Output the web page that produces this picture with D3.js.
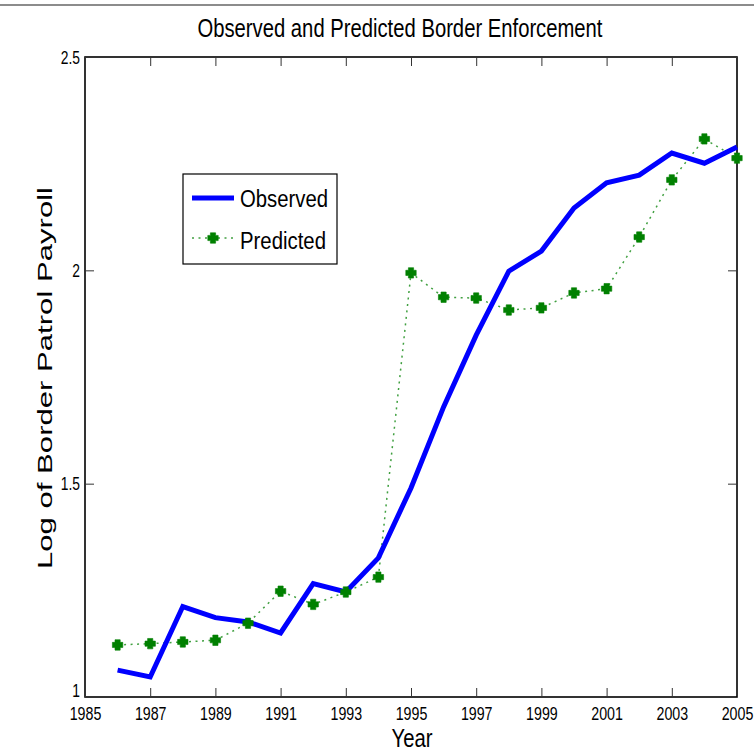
<!DOCTYPE html>
<html><head><meta charset="utf-8">
<script src="https://cdn.jsdelivr.net/npm/d3@7"></script>
<style>body{margin:0;background:#fff}svg{display:block}text{font-family:"Liberation Sans",Arial,sans-serif}</style>
</head><body>
<svg id="c" width="754" height="752"></svg>
<script>
const years = [1986,1987,1988,1989,1990,1991,1992,1993,1994,1995,1996,1997,1998,1999,2000,2001,2002,2003,2004,2005];
const observed = [1.063,1.047,1.212,1.186,1.176,1.150,1.266,1.246,1.326,1.490,1.680,1.848,1.998,2.045,2.146,2.205,2.223,2.275,2.251,2.289];
const predicted = [1.122,1.125,1.129,1.133,1.173,1.248,1.217,1.246,1.281,1.994,1.937,1.935,1.907,1.912,1.947,1.957,2.078,2.212,2.308,2.263];
const xTicks = [1985,1987,1989,1991,1993,1995,1997,1999,2001,2003,2005];
const yTicks = [1,1.5,2,2.5];
const seriesNames = ["Observed","Predicted"];

const svg = d3.select("#c");
const L=85,R=737,T=57,B=697;
const x = d3.scaleLinear().domain([1985,2005]).range([L,R]);
const y = d3.scaleLinear().domain([1,2.5]).range([B,T]);

function squeeze(sel, f){
  sel.each(function(){
    const w = this.getComputedTextLength();
    d3.select(this).attr("textLength", w*f).attr("lengthAdjust","spacingAndGlyphs");
  });
}

svg.append("line").attr("x1",0).attr("x2",754).attr("y1",5).attr("y2",5).attr("stroke","#666").attr("stroke-width",1.5);

// frame
svg.append("rect").attr("x",L).attr("y",T).attr("width",R-L).attr("height",B-T)
  .attr("fill","none").attr("stroke","#000").attr("stroke-width",1.6);

const tl=9;
const gx = svg.append("g").attr("transform",`translate(0,${B})`)
  .call(d3.axisBottom(x).tickValues(xTicks).tickFormat(d3.format("d")).tickSizeInner(-tl).tickSizeOuter(0).tickPadding(10));
const gxt = svg.append("g").attr("transform",`translate(0,${T})`)
  .call(d3.axisTop(x).tickValues(xTicks).tickFormat("").tickSizeInner(-tl).tickSizeOuter(0));
const gy = svg.append("g").attr("transform",`translate(${L},0)`)
  .call(d3.axisLeft(y).tickValues(yTicks).tickFormat(d=>String(d)).tickSizeInner(-tl).tickSizeOuter(0).tickPadding(5));
const gyr = svg.append("g").attr("transform",`translate(${R},0)`)
  .call(d3.axisRight(y).tickValues(yTicks).tickFormat("").tickSizeInner(-tl).tickSizeOuter(0));
[gx,gxt,gy,gyr].forEach(g=>{
  g.select(".domain").remove();
  g.selectAll(".tick line").attr("stroke","#333").attr("stroke-width",1);
  g.selectAll("text").attr("font-size",18).attr("fill","#000").attr("font-family","Liberation Sans, Arial, sans-serif");
});
gy.selectAll("text").attr("dy","0.35em").filter(d=>d===1).attr("dy","-0.05em");
squeeze(gx.selectAll("text"),0.79);
squeeze(gy.selectAll("text"),0.77);

// predicted dotted line
svg.append("path").datum(years.map((d,i)=>[d,predicted[i]]))
  .attr("fill","none").attr("stroke","#008000").attr("stroke-width",1.5).attr("stroke-dasharray","2,4.5").attr("opacity",0.75)
  .attr("d",d3.line().x(d=>x(d[0])).y(d=>y(d[1])));

// observed
svg.append("path").datum(years.map((d,i)=>[d,observed[i]]))
  .attr("fill","none").attr("stroke","#0000ff").attr("stroke-width",5).attr("stroke-linejoin","miter")
  .attr("d",d3.line().x(d=>x(d[0])).y(d=>y(d[1])));

const a=2.6, h=5.2;
const crossPath = `M${-a},${-h}H${a}V${-a}H${h}V${a}H${a}V${h}H${-a}V${a}H${-h}V${-a}H${-a}Z`;
svg.append("g").selectAll("path").data(years.map((d,i)=>[d,predicted[i]])).join("path")
  .attr("transform",d=>`translate(${x(d[0])},${y(d[1])})`).attr("d",crossPath)
  .attr("fill","#008000").attr("stroke","#008000").attr("stroke-width",0.6).attr("stroke-linejoin","round");

// legend
svg.append("rect").attr("x",183).attr("y",174).attr("width",154).attr("height",90)
  .attr("fill","#fff").attr("stroke","#000").attr("stroke-width",1.2);
svg.append("line").attr("x1",192).attr("x2",234).attr("y1",198).attr("y2",198).attr("stroke","#0000ff").attr("stroke-width",5);
svg.append("line").attr("x1",192).attr("x2",234).attr("y1",238).attr("y2",238).attr("stroke","#008000").attr("stroke-width",1.5).attr("stroke-dasharray","2,4.5").attr("opacity",0.75);
svg.append("path").attr("transform","translate(213,238)").attr("d",crossPath).attr("fill","#008000").attr("stroke","#008000").attr("stroke-width",0.6).attr("stroke-linejoin","round");
svg.append("text").attr("x",240).attr("y",199).attr("dy","0.35em").attr("font-size",23).attr("textLength",88).attr("lengthAdjust","spacingAndGlyphs").text(seriesNames[0]);
svg.append("text").attr("x",240).attr("y",241).attr("dy","0.35em").attr("font-size",23).attr("textLength",86).attr("lengthAdjust","spacingAndGlyphs").text(seriesNames[1]);

// title and labels
svg.append("text").attr("x",400).attr("y",37).attr("text-anchor","middle").attr("font-size",25).attr("textLength",405).attr("lengthAdjust","spacingAndGlyphs")
  .text("Observed and Predicted Border Enforcement");
svg.append("text").attr("x",412).attr("y",747).attr("text-anchor","middle").attr("font-size",25).attr("textLength",41).attr("lengthAdjust","spacingAndGlyphs").text("Year");
svg.append("text").attr("transform","translate(52,378) rotate(-90)").attr("text-anchor","middle").attr("font-size",21).attr("textLength",382).attr("lengthAdjust","spacingAndGlyphs")
  .text("Log of Border Patrol Payroll");
</script>
</body></html>
